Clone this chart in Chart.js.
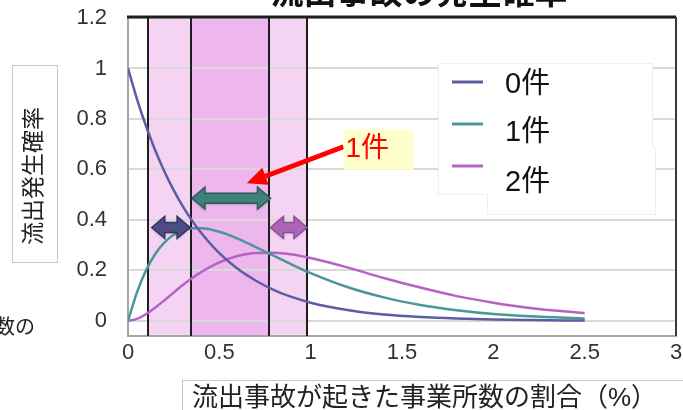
<!DOCTYPE html>
<html>
<head>
<meta charset="utf-8">
<script src="https://cdn.jsdelivr.net/npm/chart.js@4/dist/chart.umd.min.js"></script>
<style>
    html, body { margin: 0; padding: 0; background: #fff; }
    #wrap { position: relative; width: 683px; height: 410px; overflow: hidden; }
</style>
</head>
<body>
<div id="wrap"><canvas id="myChart" width="683" height="410"></canvas></div>
<script>
// x = share of sites with a spill (%), y = probability of n spills
const xVals = [0, 0.05, 0.1, 0.15, 0.2, 0.25, 0.3, 0.35, 0.4, 0.5, 0.6, 0.7, 0.8, 0.9, 1.0, 1.2, 1.4, 1.6, 1.8, 2.0, 2.2, 2.5];
const p0 = [1, 0.877, 0.769, 0.674, 0.591, 0.518, 0.454, 0.398, 0.349, 0.268, 0.206, 0.159, 0.122, 0.094, 0.072, 0.043, 0.025, 0.015, 0.009, 0.005, 0.003, 0.001];
const p1 = [0, 0.115, 0.202, 0.266, 0.311, 0.341, 0.359, 0.367, 0.367, 0.353, 0.326, 0.292, 0.257, 0.222, 0.189, 0.134, 0.093, 0.063, 0.042, 0.027, 0.018, 0.009];
const p2 = [0, 0.008, 0.027, 0.053, 0.082, 0.112, 0.142, 0.169, 0.193, 0.232, 0.257, 0.269, 0.270, 0.263, 0.249, 0.212, 0.170, 0.132, 0.098, 0.072, 0.051, 0.030];

const seriesLabels = ["0件", "1件", "2件"];
const yTicks = [0, 0.2, 0.4, 0.6, 0.8, 1, 1.2];
const xTicks = [0, 0.5, 1, 1.5, 2, 2.5, 3];

// shaded ranges on the x axis
const bandEdges = [0.11, 0.345, 0.77, 0.98];

const FONT = '"Liberation Sans", "Noto Sans CJK JP", sans-serif';
const colors = ["#5c5ea3", "#4a9896", "#b463c4"];

// range arrows drawn inside the bands
const rangeArrows = [
    { from: 0.13, to: 0.34, y: 0.37, fill: "#4c4d84", edge: "#34355f" },
    { from: 0.35, to: 0.78, y: 0.486, fill: "#3f7f7c", edge: "#2a5b59" },
    { from: 0.78, to: 0.98, y: 0.37, fill: "#ab66b8", edge: "#8e4d9a" }
];
const callout = { text: "1件", from: [1.18, 0.69], to: [0.65, 0.545] };

const toPoints = ys => ys.map((y, i) => ({ x: xVals[i], y: y }));

function doubleArrow(ctx, x1, x2, y, fill, edge) {
    const head = Math.min(13, (x2 - x1) / 2.4);
    const hh = 11, sh = 5;
    ctx.save();
    ctx.beginPath();
    ctx.moveTo(x1, y);
    ctx.lineTo(x1 + head, y - hh);
    ctx.lineTo(x1 + head, y - sh);
    ctx.lineTo(x2 - head, y - sh);
    ctx.lineTo(x2 - head, y - hh);
    ctx.lineTo(x2, y);
    ctx.lineTo(x2 - head, y + hh);
    ctx.lineTo(x2 - head, y + sh);
    ctx.lineTo(x1 + head, y + sh);
    ctx.lineTo(x1 + head, y + hh);
    ctx.closePath();
    ctx.shadowColor = "rgba(0,0,0,0.25)";
    ctx.shadowBlur = 3;
    ctx.shadowOffsetY = 1;
    ctx.fillStyle = fill;
    ctx.fill();
    ctx.shadowColor = "transparent";
    ctx.lineWidth = 1.5;
    ctx.strokeStyle = edge;
    ctx.stroke();
    ctx.restore();
}

const decorPlugin = {
    id: "decor",
    beforeDraw(chart) {
        const { ctx, chartArea: a, scales: { x } } = chart;
        const px = bandEdges.map(v => x.getPixelForValue(v));
        ctx.save();
        ctx.fillStyle = "#f5d3f3";
        ctx.fillRect(px[0], a.top, px[1] - px[0], a.bottom - a.top);
        ctx.fillRect(px[2], a.top, px[3] - px[2], a.bottom - a.top);
        ctx.fillStyle = "#edb6ec";
        ctx.fillRect(px[1], a.top, px[2] - px[1], a.bottom - a.top);
        ctx.restore();
    },
    beforeDatasetsDraw(chart) {
        const { ctx, chartArea: a, scales: { x } } = chart;
        ctx.save();
        ctx.strokeStyle = "#1e1e1e";
        ctx.lineWidth = 2;
        bandEdges.forEach(v => {
            const p = Math.round(x.getPixelForValue(v));
            ctx.beginPath();
            ctx.moveTo(p, a.top);
            ctx.lineTo(p, a.bottom);
            ctx.stroke();
        });
        // frame top and right
        ctx.lineWidth = 3;
        ctx.beginPath();
        ctx.moveTo(a.left - 1, a.top - 1);
        ctx.lineTo(a.right, a.top - 1);
        ctx.stroke();
        ctx.strokeStyle = "#3a3a3a";
        ctx.lineWidth = 2;
        ctx.beginPath();
        ctx.moveTo(a.right, a.top - 1);
        ctx.lineTo(a.right, a.bottom);
        ctx.stroke();
        ctx.restore();
    },
    afterDatasetsDraw(chart) {
        const { ctx, scales: { x, y } } = chart;
        rangeArrows.forEach(r => {
            doubleArrow(ctx, x.getPixelForValue(r.from), x.getPixelForValue(r.to),
                y.getPixelForValue(r.y), r.fill, r.edge);
        });

        // red callout arrow
        const tx = x.getPixelForValue(callout.from[0]), ty = y.getPixelForValue(callout.from[1]);
        const hx = x.getPixelForValue(callout.to[0]), hy = y.getPixelForValue(callout.to[1]);
        const ang = Math.atan2(hy - ty, hx - tx);
        const hl = 20, hw = 9;
        const bx = hx - hl * Math.cos(ang), by = hy - hl * Math.sin(ang);
        ctx.save();
        ctx.strokeStyle = "#ff0000";
        ctx.fillStyle = "#ff0000";
        ctx.lineWidth = 5;
        ctx.beginPath();
        ctx.moveTo(tx, ty);
        ctx.lineTo(bx, by);
        ctx.stroke();
        ctx.beginPath();
        ctx.moveTo(hx, hy);
        ctx.lineTo(bx + hw * Math.sin(ang), by - hw * Math.cos(ang));
        ctx.lineTo(bx - hw * Math.sin(ang), by + hw * Math.cos(ang));
        ctx.closePath();
        ctx.fill();

        ctx.fillStyle = "#ffffcc";
        ctx.fillRect(tx, ty - 17, 70, 40);
        ctx.fillStyle = "#ff0000";
        ctx.font = "28px " + FONT;
        ctx.textBaseline = "middle";
        ctx.textAlign = "left";
        ctx.fillText(callout.text, tx + 2, ty + 3);
        ctx.restore();
    },
    afterDraw(chart) {
        const ctx = chart.ctx;
        ctx.save();

        // legend panel
        ctx.fillStyle = "#ffffff";
        ctx.strokeStyle = "#efefef";
        ctx.lineWidth = 1;
        ctx.fillRect(438, 63, 214, 131);
        ctx.strokeRect(438.5, 63.5, 214, 131);
        ctx.fillRect(487, 147, 168, 67);
        ctx.strokeRect(487.5, 147.5, 168, 67);
        ctx.fillRect(439, 64, 213, 130);
        const lineY = [82, 124, 166];
        const textY = [85, 133, 183];
        ctx.font = "29px " + FONT;
        ctx.textBaseline = "middle";
        ctx.textAlign = "left";
        chart.data.datasets.forEach((ds, i) => {
            ctx.strokeStyle = ds.borderColor;
            ctx.lineWidth = 3;
            ctx.beginPath();
            ctx.moveTo(452, lineY[i]);
            ctx.lineTo(483, lineY[i]);
            ctx.stroke();
            ctx.fillStyle = "#111";
            ctx.fillText(ds.label, 505, textY[i]);
        });

        // chart title (runs off the top edge)
        ctx.fillStyle = "#111";
        ctx.font = "bold 33px " + FONT;
        ctx.textAlign = "center";
        ctx.textBaseline = "alphabetic";
        ctx.fillText("流出事故の発生確率", 419, 4);

        // y axis title
        ctx.strokeStyle = "#c8c8c8";
        ctx.lineWidth = 1;
        ctx.strokeRect(12.5, 65.5, 45, 197);
        ctx.save();
        ctx.translate(35, 176);
        ctx.rotate(-Math.PI / 2);
        ctx.fillStyle = "#222";
        ctx.font = "23px " + FONT;
        ctx.textAlign = "center";
        ctx.textBaseline = "middle";
        ctx.fillText("流出発生確率", 0, 0);
        ctx.restore();

        // x axis title
        ctx.strokeRect(182.5, 380.5, 520, 60);
        ctx.fillStyle = "#222";
        ctx.font = "26px " + FONT;
        ctx.textAlign = "left";
        ctx.textBaseline = "middle";
        ctx.fillText("流出事故が起きた事業所数の割合（%）", 192, 399);

        // leftover text at the left edge
        ctx.font = "20px " + FONT;
        ctx.fillText("数の", -5, 328);
        ctx.restore();
    }
};

const ctx = document.getElementById("myChart").getContext("2d");

window.chart = new Chart(ctx, {
    type: "line",
    data: {
        datasets: [p0, p1, p2].map((ys, i) => ({
            label: seriesLabels[i],
            data: toPoints(ys),
            borderColor: colors[i],
            borderWidth: 2.5,
            pointRadius: 0,
            fill: false,
            cubicInterpolationMode: "monotone"
        }))
    },
    options: {
        responsive: false,
        animation: false,
        devicePixelRatio: 1,
        layout: { padding: { top: 18, right: 7, left: 0, bottom: 0 } },
        plugins: {
            legend: { display: false },
            tooltip: { enabled: false }
        },
        scales: {
            x: {
                type: "linear",
                min: 0,
                max: 3,
                afterBuildTicks: s => { s.ticks = xTicks.map(v => ({ value: v })); },
                afterFit: s => {
                    s.height = 74;
                    s.paddingLeft = 0;
                    s.paddingRight = 0;
                },
                grid: { display: false },
                border: { color: "#a6a6a6", width: 2 },
                ticks: {
                    padding: -4,
                    color: "#333",
                    font: { family: FONT, size: 22 },
                    maxRotation: 0,
                    callback: v => String(v)
                }
            },
            y: {
                type: "linear",
                min: -0.06,
                max: 1.2,
                afterBuildTicks: s => { s.ticks = yTicks.map(v => ({ value: v })); },
                afterFit: s => {
                    s.width = 128;
                    s.paddingTop = 0;
                    s.paddingBottom = 0;
                },
                grid: { color: "#d9d9d9", lineWidth: 2, drawTicks: false },
                border: { color: "#a6a6a6", width: 2 },
                ticks: {
                    padding: 21,
                    color: "#333",
                    font: { family: FONT, size: 22 },
                    callback: v => String(+v.toFixed(1))
                }
            }
        }
    },
    plugins: [decorPlugin]
});
</script>
</body>
</html>
